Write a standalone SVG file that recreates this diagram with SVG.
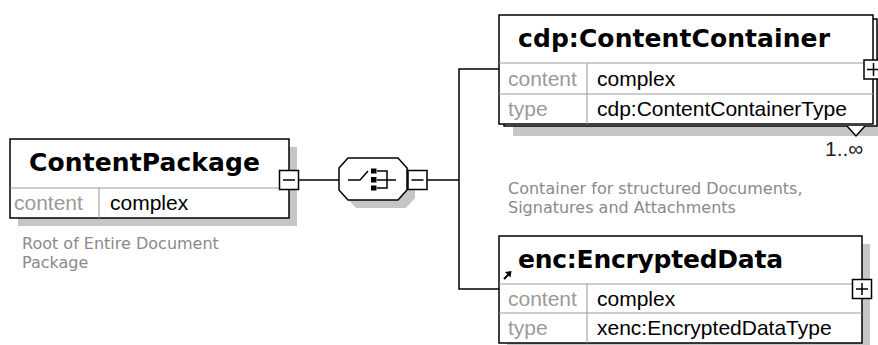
<svg xmlns="http://www.w3.org/2000/svg" width="878" height="345" viewBox="0 0 878 345">
  <style>
    .shadow { fill: #c6c6c6; }
    .box { fill: #fff; stroke: #000; stroke-width: 1.5; }
    .div { stroke: #9a9a9a; stroke-width: 1; fill: none; }
    .wire { stroke: #000; stroke-width: 1.5; fill: none; }
    .title { font-family: "DejaVu Sans", Verdana, sans-serif; font-weight: bold; font-size: 25px; fill: #000; }
    .lbl { font-family: "Liberation Sans", Arial, sans-serif; font-size: 21px; fill: #9a9a9a; }
    .val { font-family: "Liberation Sans", Arial, sans-serif; font-size: 21px; fill: #000; }
    .doc { font-family: "DejaVu Sans", Verdana, sans-serif; font-size: 16px; fill: #8a8a8a; }
    .occ { font-family: "Liberation Sans", Arial, sans-serif; font-size: 21px; fill: #222; }
    .btn { fill: #fff; stroke: #000; stroke-width: 1.5; }
    .sign { stroke: #000; stroke-width: 1.5; }
  </style>

  <!-- connectors -->
  <g id="connectors">
    <line class="wire" x1="298" y1="180" x2="339" y2="180"/>
    <line class="wire" x1="427" y1="180" x2="459" y2="180"/>
    <polyline class="wire" points="499,69 459,69 459,289 499,289"/>
  </g>

  <!-- root element -->
  <g id="node-contentpackage">
    <rect class="shadow" x="18" y="147" width="279" height="79"/>
    <rect class="box" x="10" y="139" width="279" height="79"/>
    <line class="div" x1="10" y1="188" x2="289" y2="188"/>
    <line class="div" x1="99" y1="188" x2="99" y2="218"/>
    <text class="title" x="29" y="171" textLength="231">ContentPackage</text>
    <text class="lbl" x="14" y="210">content</text>
    <text class="val" x="110" y="210">complex</text>
    <rect class="btn" x="279.5" y="170.5" width="19" height="19"/>
    <line class="sign" x1="283" y1="180" x2="295" y2="180"/>
    <text class="doc" x="22" y="249">Root of Entire Document</text>
    <text class="doc" x="22" y="268">Package</text>
  </g>

  <!-- sequence compositor -->
  <g id="node-sequence">
    <polygon class="shadow" points="347,176 356,166 406,166 415,176 415,198 406,208 356,208 347,198"/>
    <polygon class="box" points="339,168 348,158 398,158 407,168 407,190 398,200 348,200 339,190"/>
    <path class="wire" d="M348,180 H360 L368,171"/>
    <rect x="371" y="168.5" width="5.5" height="5" fill="#000"/>
    <rect x="371" y="177" width="5.5" height="5.5" fill="#000"/>
    <rect x="371" y="185.5" width="5.5" height="5" fill="#000"/>
    <path class="wire" d="M377,171 H387 V188 H377 M377,180 H396"/>
    <rect class="btn" x="408" y="170.5" width="19" height="19"/>
    <line class="sign" x1="411.5" y1="180" x2="423.5" y2="180"/>
  </g>

  <!-- cdp:ContentContainer (1..unbounded) -->
  <g id="node-contentcontainer">
    <rect class="shadow" x="513" y="28" width="373" height="108"/>
    <rect class="box" x="504" y="19" width="373" height="107"/>
    <path d="M847,126 L856,136 L865,126" fill="#fff" stroke="#000" stroke-width="1.5"/>
    <rect class="box" x="499" y="15" width="374" height="109"/>
    <line class="div" x1="499" y1="63" x2="873" y2="63"/>
    <line class="div" x1="499" y1="94" x2="873" y2="94"/>
    <line class="div" x1="587" y1="63" x2="587" y2="124"/>
    <text class="title" x="518" y="47" textLength="312">cdp:ContentContainer</text>
    <text class="lbl" x="508" y="86">content</text>
    <text class="val" x="597" y="86">complex</text>
    <text class="lbl" x="508" y="116">type</text>
    <text class="val" x="597" y="116">cdp:ContentContainerType</text>
    <rect class="btn" x="864" y="60" width="19" height="19"/>
    <path class="sign" d="M867,69.5 H880 M873.5,63 V76"/>
    <text class="occ" x="825" y="156">1..∞</text>
    <text class="doc" x="508" y="194">Container for structured Documents,</text>
    <text class="doc" x="508" y="213">Signatures and Attachments</text>
  </g>

  <!-- enc:EncryptedData (reference) -->
  <g id="node-encrypteddata">
    <rect class="shadow" x="507" y="244" width="363" height="107"/>
    <rect class="box" x="499" y="236" width="363" height="107"/>
    <line class="div" x1="499" y1="284" x2="862" y2="284"/>
    <line class="div" x1="499" y1="313" x2="862" y2="313"/>
    <line class="div" x1="587" y1="284" x2="587" y2="343"/>
    <path d="M504,279 L509,274" stroke="#000" stroke-width="2"/>
    <polygon points="511.5,271 505,272 510.5,277.5" fill="#000"/>
    <text class="title" x="518" y="268" textLength="265">enc:EncryptedData</text>
    <text class="lbl" x="508" y="306">content</text>
    <text class="val" x="597" y="306">complex</text>
    <text class="lbl" x="508" y="335">type</text>
    <text class="val" x="597" y="335">xenc:EncryptedDataType</text>
    <rect class="btn" x="852.5" y="279.5" width="19" height="19"/>
    <path class="sign" d="M856,289 H868 M862,283 V295"/>
  </g>
</svg>
